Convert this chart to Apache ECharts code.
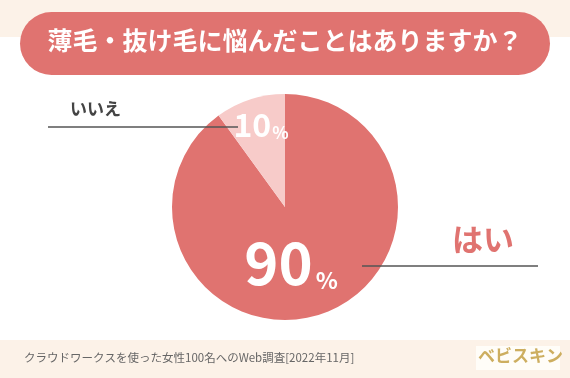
<!DOCTYPE html>
<html>
<head>
<meta charset="utf-8">
<script src="https://cdn.jsdelivr.net/npm/echarts@6/dist/echarts.min.js"></script>
<style>
  html, body { margin: 0; padding: 0; background: #fff; }
  #chart { width: 570px; height: 378px; }
</style>
</head>
<body>
<div id="chart"></div>
<script>
// 回答データ
const answers = ["はい", "いいえ"];
const percents = [90, 10];
const sliceColors = ["#e07370", "#f7cbc9"];
const titleText = "薄毛・抜け毛に悩んだことはありますか？";
const noteText = "クラウドワークスを使った女性100名へのWeb調査[2022年11月]";
const brandText = "ベビスキン";

const FONT = '"Noto Sans CJK JP", "Noto Sans", sans-serif';
const chart = echarts.init(document.getElementById("chart"));

// ラベル位置 (はい / いいえ)
const pctPos = [
  { x: 291, y: 262 },
  { x: 261, y: 124 },
];

const option = {
  animation: false,
  graphic: [
    // 背景
    { type: "rect", z: -10, shape: { x: 0, y: 0, width: 570, height: 37 }, style: { fill: "#fcf2e8" } },
    { type: "rect", z: -10, shape: { x: 0, y: 340, width: 570, height: 38 }, style: { fill: "#fcf2e8" } },
    // タイトル
    { type: "rect", z: -5, shape: { x: 20, y: 12, width: 530, height: 63, r: 31.5 }, style: { fill: "#e07370" } },
    {
      type: "text", left: "center", top: 28,
      style: { text: titleText, fill: "#fff", font: "bold 25px " + FONT },
    },
    // 引き出し線
    { type: "line", z: 5, shape: { x1: 48, y1: 127, x2: 238, y2: 127 }, style: { stroke: "#555", lineWidth: 1.5 } },
    { type: "line", z: 5, shape: { x1: 362, y1: 266, x2: 538, y2: 266 }, style: { stroke: "#555", lineWidth: 1.5 } },
    {
      type: "text", x: 70, y: 100,
      style: { text: answers[1], fill: "#444", font: "bold 17px " + FONT },
    },
    {
      type: "text", x: 452, y: 224,
      style: { text: answers[0], fill: "#e07370", font: "bold 31px " + FONT },
    },
    // 出典
    {
      type: "text", x: 24, y: 352,
      style: { text: noteText, fill: "#666", font: "11.5px " + FONT },
    },
    { type: "rect", shape: { x: 476, y: 346, width: 84, height: 24 }, style: { fill: "#fffdf8" } },
    {
      type: "text", x: 478, y: 347,
      style: { text: brandText, fill: "#cdae5f", font: "bold 17px " + FONT },
    },
  ],
  series: [
    {
      type: "pie",
      center: [285, 207],
      radius: [0, 113],
      startAngle: 90,
      clockwise: true,
      silent: true,
      data: answers.map((name, i) => ({
        name: name,
        value: percents[i],
        itemStyle: { color: sliceColors[i] },
        label: {
          rich: i === 0
            ? { n: { fontSize: 58, fontWeight: "bold", color: "#fff", fontFamily: FONT, verticalAlign: "bottom", lineHeight: 60 },
                p: { fontSize: 23, fontWeight: "bold", color: "#fff", fontFamily: FONT, verticalAlign: "bottom", lineHeight: 60, padding: [0, 0, 0, 3] } }
            : { n: { fontSize: 32, fontWeight: "bold", color: "#fff", fontFamily: FONT, verticalAlign: "bottom", lineHeight: 34 },
                p: { fontSize: 17, fontWeight: "bold", color: "#fff", fontFamily: FONT, verticalAlign: "bottom", lineHeight: 34, padding: [0, 0, 0, 1] } },
        },
      })),
      label: {
        show: true,
        position: "inside",
        formatter: (p) => "{n|" + p.value + "}{p|%}",
      },
      labelLine: { show: false },
      labelLayout: (params) => ({
        x: pctPos[params.dataIndex].x,
        y: pctPos[params.dataIndex].y,
        align: "center",
        verticalAlign: "middle",
      }),
    },
  ],
};
chart.setOption(option);
</script>
</body>
</html>
